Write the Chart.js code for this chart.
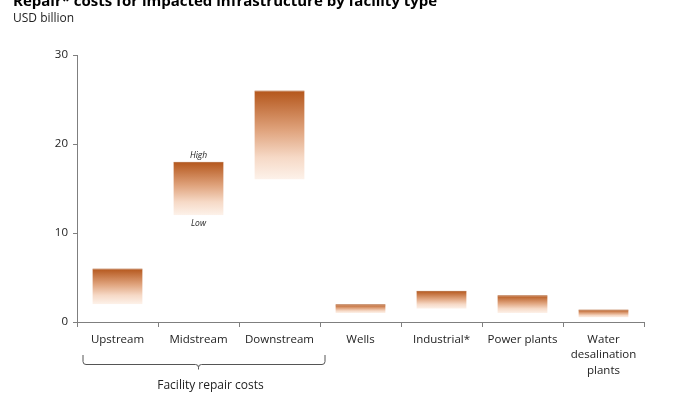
<!DOCTYPE html>
<html>
<head>
<meta charset="utf-8">
<script src="https://cdn.jsdelivr.net/npm/chart.js@4/dist/chart.umd.min.js"></script>
<style>
  html, body { margin: 0; padding: 0; background: #fff; }
  #wrap { position: relative; width: 700px; height: 394px; }
</style>
</head>
<body>
<div id="wrap"><canvas id="c" width="700" height="394"></canvas></div>
<script>
const categories = ["Upstream", "Midstream", "Downstream", "Wells", "Industrial*", "Power plants", ["Water", "desalination", "plants"]];
const lowValues  = [2, 12, 16, 1, 1.5, 1, 0.5];
const highValues = [6, 18, 26, 2, 3.5, 3, 1.4];
const yTicks = [0, 10, 20, 30];
const titleText = "Repair* costs for impacted infrastructure by facility type";
const subtitleText = "USD billion";
const bracketLabel = "Facility repair costs";
const highLabel = "High";
const lowLabel = "Low";

const FONT = "'Open Sans', 'Noto Sans', sans-serif";

const ranges = lowValues.map((lo, i) => [lo, highValues[i]]);

function gradientFor(ctx) {
  const chart = ctx.chart;
  if (!chart.chartArea || ctx.type !== 'data') return '#d98b5a';
  const y = chart.scales.y;
  const v = ranges[ctx.dataIndex];
  const top = y.getPixelForValue(v[1]);
  const bot = y.getPixelForValue(v[0]);
  const g = chart.ctx.createLinearGradient(0, top, 0, bot);
  g.addColorStop(0, '#b4561b');
  g.addColorStop(0.45, '#e0a47e');
  g.addColorStop(0.75, '#f6d9c6');
  g.addColorStop(1, '#fdf2ea');
  return g;
}

const extras = {
  id: 'extras',
  afterDraw(chart) {
    const c = chart.ctx;
    const x = chart.scales.x, y = chart.scales.y;
    c.save();
    // title
    c.fillStyle = '#000';
    c.textBaseline = 'alphabetic';
    c.textAlign = 'left';
    c.font = "bold 15px " + FONT;
    c.fillText(titleText, 13, 6);
    c.font = "12px " + FONT;
    c.fillStyle = '#222';
    c.textBaseline = 'middle';
    c.fillText(subtitleText, 13, 19);

    // High / Low labels on Midstream
    const mx = x.getPixelForValue(1);
    c.font = "italic 8.5px " + FONT;
    c.textAlign = 'center';
    c.fillStyle = '#222';
    c.fillText(highLabel, mx, y.getPixelForValue(highValues[1]) - 6);
    c.fillText(lowLabel, mx, y.getPixelForValue(lowValues[1]) + 8);

    // bracket under first three categories
    const half = (x.getPixelForValue(1) - x.getPixelForValue(0)) / 2;
    const x0 = x.getPixelForValue(0) - half + 6;
    const x1 = x.getPixelForValue(2) + half + 5;
    const xm = x.getPixelForValue(1);
    const yb = 364.5, yt = 355, r = 3;
    c.strokeStyle = '#555';
    c.lineWidth = 1;
    c.beginPath();
    c.moveTo(x0, yt);
    c.lineTo(x0, yb - r);
    c.quadraticCurveTo(x0, yb, x0 + r, yb);
    c.lineTo(xm - r, yb);
    c.quadraticCurveTo(xm, yb, xm, yb + r);
    c.lineTo(xm, yb + 5);
    c.moveTo(xm, yb + r);
    c.quadraticCurveTo(xm, yb, xm + r, yb);
    c.lineTo(x1 - r, yb);
    c.quadraticCurveTo(x1, yb, x1, yb - r);
    c.lineTo(x1, yt);
    c.stroke();
    c.font = "12px " + FONT;
    c.fillStyle = '#222';
    c.textAlign = 'center';
    c.textBaseline = 'middle';
    c.fillText(bracketLabel, xm + 12, 385.5);
    c.restore();
  }
};

new Chart(document.getElementById('c'), {
  type: 'bar',
  data: {
    labels: categories,
    datasets: [{
      data: ranges,
      backgroundColor: gradientFor,
      borderColor: '#a8501a',
      borderWidth: { top: 1, left: 0, right: 0, bottom: 0 },
      borderSkipped: false,
      categoryPercentage: 1,
      barPercentage: 0.62
    }]
  },
  options: {
    responsive: false,
    animation: false,
    devicePixelRatio: 1,
    layout: { padding: { left: 0, right: 56, top: 55, bottom: 0 } },
    plugins: {
      legend: { display: false },
      tooltip: { enabled: false },
      title: { display: false }
    },
    scales: {
      x: {
        offset: true,
        grid: {
          display: true, drawOnChartArea: false, drawTicks: true,
          tickLength: 5, color: '#7f7f7f', offset: true
        },
        border: { display: true, color: '#7f7f7f', width: 1 },
        ticks: {
          color: '#222', font: { family: FONT, size: 11.5, lineHeight: 1.33 },
          padding: 5, maxRotation: 0, autoSkip: false
        },
        afterFit(s) { s.height = 72; }
      },
      y: {
        min: 0, max: 30,
        afterBuildTicks(s) { s.ticks = yTicks.map(v => ({ value: v })); },
        grid: {
          display: true, drawOnChartArea: false, drawTicks: true,
          tickLength: 4, color: '#7f7f7f'
        },
        border: { display: true, color: '#7f7f7f', width: 1 },
        ticks: { color: '#222', font: { family: FONT, size: 11.5 }, padding: 5 },
        afterFit(s) { s.width = 77; }
      }
    }
  },
  plugins: [extras]
});
</script>
</body>
</html>
